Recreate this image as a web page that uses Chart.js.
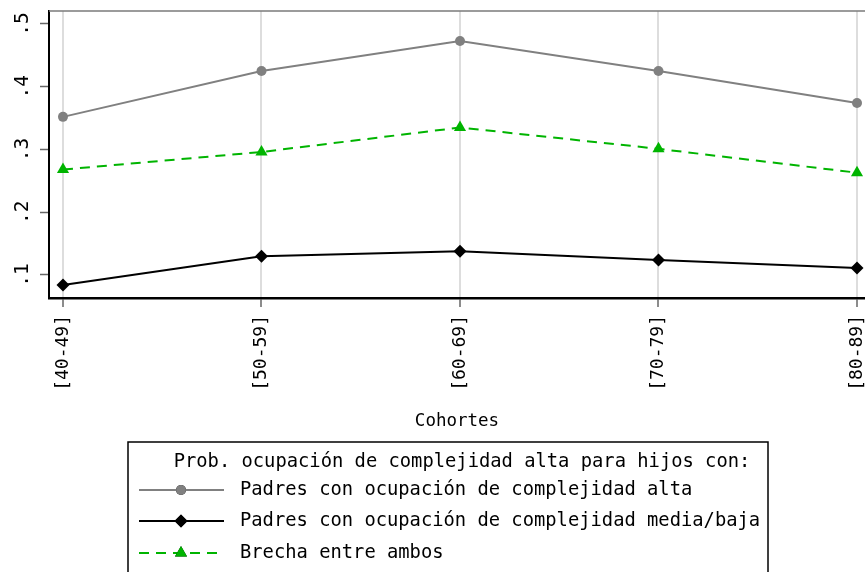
<!DOCTYPE html>
<html>
<head>
<meta charset="utf-8">
<script src="https://cdn.jsdelivr.net/npm/chart.js@4.4.1/dist/chart.umd.min.js"></script>
<style>
    html, body { margin: 0; padding: 0; background: #fff; overflow: hidden; }
    #wrap { width: 865px; height: 572px; position: relative; }
</style>
</head>
<body>
<div id="wrap"><canvas id="chart" width="865" height="572"></canvas></div>
<script>
// Data
const cohorts = ['[40-49]', '[50-59]', '[60-69]', '[70-79]', '[80-89]'];
const highParents = [0.352, 0.425, 0.473, 0.425, 0.374];
const lowParents = [0.084, 0.130, 0.138, 0.124, 0.111];
const gapBoth = [0.268, 0.296, 0.335, 0.301, 0.263];
const yTicks = [0.1, 0.2, 0.3, 0.4, 0.5];
const yTickLabels = ['.1', '.2', '.3', '.4', '.5'];

const legendTitle = 'Prob. ocupación de complejidad alta para hijos con:';
const seriesNames = [
    'Padres con ocupación de complejidad alta',
    'Padres con ocupación de complejidad media/baja',
    'Brecha entre ambos'
];

const MONO = '"DejaVu Sans Mono", "Liberation Mono", monospace';
const GREY = '#808080';
const GREEN = '#00b400';

const toPoints = arr => arr.map((v, i) => ({ x: i, y: v }));

// no automatic label padding, the plot area is fixed
const noPadding = scale => {
    scale.paddingLeft = 0;
    scale.paddingRight = 0;
    scale.paddingTop = 0;
    scale.paddingBottom = 0;
};

// Draws the top frame line and the boxed legend below the axis title
const framePlugin = {
    id: 'frameAndLegend',
    afterDraw(chart) {
        const ctx = chart.ctx;
        const area = chart.chartArea;
        ctx.save();
        ctx.strokeStyle = '#7a7a7a';
        ctx.lineWidth = 1.5;
        ctx.beginPath();
        ctx.moveTo(area.left, area.top);
        ctx.lineTo(area.right, area.top);
        ctx.stroke();

        // legend box
        const box = { left: 128, top: 442, right: 768, bottom: 580 };
        ctx.strokeStyle = '#000';
        ctx.lineWidth = 1.5;
        ctx.strokeRect(box.left, box.top, box.right - box.left, box.bottom - box.top);

        ctx.fillStyle = '#000';
        ctx.font = '18.8px ' + MONO;
        ctx.textBaseline = 'middle';
        ctx.textAlign = 'center';
        ctx.fillText(legendTitle, 462, 462);

        const rows = [490, 521, 553];
        chart.data.datasets.forEach((ds, i) => {
            const y = rows[i];
            ctx.save();
            ctx.strokeStyle = ds.borderColor;
            ctx.lineWidth = ds.borderWidth;
            ctx.setLineDash(ds.borderDash || []);
            ctx.beginPath();
            ctx.moveTo(139, y);
            ctx.lineTo(224, y);
            ctx.stroke();
            ctx.restore();
            Chart.helpers.drawPoint(ctx, {
                pointStyle: ds.pointStyle,
                radius: ds.pointRadius,
                rotation: 0,
                borderWidth: 0
            }, 181, y);
            ctx.fillStyle = ds.pointBackgroundColor;
            ctx.fill();
            ctx.fillStyle = '#000';
            ctx.textAlign = 'left';
            ctx.fillText(seriesNames[i], 240, y);
        });
        ctx.restore();
    }
};

const ctx = document.getElementById('chart').getContext('2d');
new Chart(ctx, {
    type: 'line',
    data: {
        datasets: [
            {
                label: seriesNames[0],
                data: toPoints(highParents),
                borderColor: GREY,
                backgroundColor: GREY,
                pointBackgroundColor: GREY,
                pointBorderColor: GREY,
                borderWidth: 2,
                pointStyle: 'circle',
                pointRadius: 5,
                pointBorderWidth: 0
            },
            {
                label: seriesNames[1],
                data: toPoints(lowParents),
                borderColor: '#000',
                backgroundColor: '#000',
                pointBackgroundColor: '#000',
                pointBorderColor: '#000',
                borderWidth: 2,
                pointStyle: 'rectRot',
                pointRadius: 6.5,
                pointBorderWidth: 0
            },
            {
                label: seriesNames[2],
                data: toPoints(gapBoth),
                borderColor: GREEN,
                backgroundColor: GREEN,
                pointBackgroundColor: GREEN,
                pointBorderColor: GREEN,
                borderWidth: 2,
                borderDash: [10, 7],
                pointStyle: 'triangle',
                pointRadius: 7,
                pointBorderWidth: 0
            }
        ]
    },
    options: {
        responsive: false,
        animation: false,
        events: [],
        layout: { padding: { top: 11, left: 0, right: 0, bottom: 0 }, autoPadding: false },
        plugins: {
            legend: { display: false },
            tooltip: { enabled: false }
        },
        elements: { line: { tension: 0 } },
        scales: {
            x: {
                type: 'linear',
                min: -0.0705,
                max: 4.0403,
                afterBuildTicks: scale => {
                    scale.ticks = cohorts.map((c, i) => ({ value: i }));
                },
                afterFit: scale => { scale.height = 274; noPadding(scale); },
                ticks: {
                    minRotation: 90,
                    maxRotation: 90,
                    padding: 8,
                    color: '#000',
                    font: { family: MONO, size: 18 },
                    callback: v => cohorts[v]
                },
                grid: {
                    color: '#dddddd',
                    lineWidth: 2,
                    tickColor: '#666',
                    tickLength: 9,
                    tickWidth: 1.5
                },
                border: { color: '#000', width: 2.5 },
                title: {
                    display: true,
                    text: 'Cohortes',
                    color: '#000',
                    font: { family: MONO, size: 17.5 },
                    padding: { top: 0, bottom: 140 }
                }
            },
            y: {
                min: 0.0633,
                max: 0.5207,
                afterBuildTicks: scale => {
                    scale.ticks = yTicks.map(v => ({ value: v }));
                },
                afterFit: scale => { scale.width = 49; noPadding(scale); },
                ticks: {
                    minRotation: 90,
                    maxRotation: 90,
                    crossAlign: 'center',
                    padding: 5,
                    color: '#000',
                    font: { family: MONO, size: 19.5 },
                    callback: v => yTickLabels[yTicks.findIndex(t => Math.abs(t - v) < 1e-6)]
                },
                grid: {
                    drawOnChartArea: false,
                    tickColor: '#666',
                    tickLength: 9,
                    tickWidth: 1.5
                },
                border: { color: '#000', width: 2 }
            }
        }
    },
    plugins: [framePlugin]
});
</script>
</body>
</html>
